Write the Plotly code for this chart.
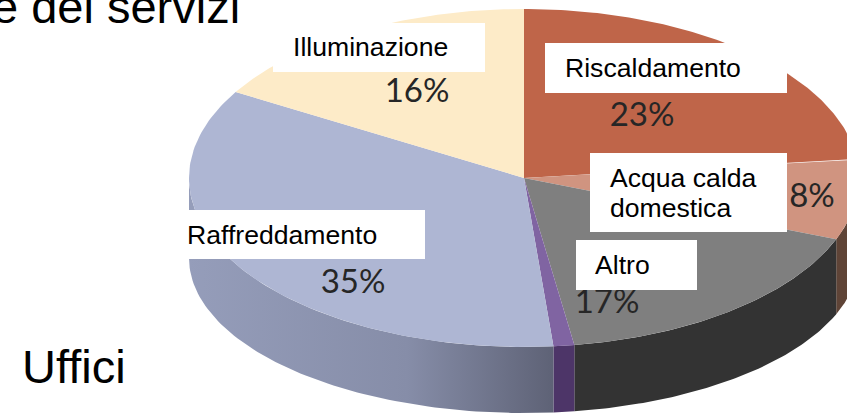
import numpy as np
import plotly.graph_objects as go

# Slices, clockwise from 12 o'clock
categories = ["Riscaldamento", "Acqua calda domestica", "Altro", "Altro (viola)", "Raffreddamento", "Illuminazione"]
values = [23.2, 7.7, 16.7, 1.0, 34.9, 16.5]
pct_labels = ["23%", "8%", "17%", "", "35%", "16%"]
top_colors = ["#BF6549", "#D09480", "#7F7F7F", "#8064A2", "#AEB6D3", "#FDEBC8"]
wall_colors = ["#8A4A36", "#5F4437", "#333333", "#4D3568", None, "#C0B090"]
wall_gradient = [[0, "#959DBA"], [0.6, "#868DA8"], [1, "#5E6276"]]

# Geometry of the tilted pie on the page
CX, CY, RX, RY = 524, 178, 335, 169
BOT_DY, BOT_RY = 80, 155

def top_pt(t):
    return CX + RX * np.sin(t), CY - RY * np.cos(t)

def bot_pt(t):
    return CX + RX * np.sin(t), CY + BOT_DY - BOT_RY * np.cos(t)

fig = go.Figure()
edges = np.radians(np.concatenate([[0], np.cumsum(values)]) * 3.6)

# side walls (front half only)
for i in range(len(values)):
    a, b = max(edges[i], np.pi / 2), min(edges[i + 1], 3 * np.pi / 2)
    if b <= a:
        continue
    t = np.linspace(a, b, 80)
    xt, yt = top_pt(t)
    xb, yb = bot_pt(t[::-1])
    kw = dict(fillcolor=wall_colors[i]) if wall_colors[i] else dict(
        fillgradient=dict(type="horizontal", colorscale=wall_gradient))
    fig.add_trace(go.Scatter(x=np.r_[xt, xb], y=np.r_[yt, yb], mode="lines", fill="toself",
                             line=dict(width=0), hoverinfo="skip", showlegend=False, **kw))

# top face
for i in range(len(values)):
    t = np.linspace(edges[i], edges[i + 1], 120)
    xt, yt = top_pt(t)
    fig.add_trace(go.Scatter(x=np.r_[CX, xt, CX], y=np.r_[CY, yt, CY], mode="lines", fill="toself",
                             fillcolor=top_colors[i], line=dict(width=0, color=top_colors[i]),
                             name=categories[i], hoverinfo="name", showlegend=False))

# percentage labels (beneath the white boxes)
pct_pos = [(642, 118), (812, 199), (607, 305), None, (353, 285), (417, 94)]
for lab, pos in zip(pct_labels, pct_pos):
    if pos:
        fig.add_trace(go.Scatter(x=[pos[0]], y=[pos[1]], mode="text", text=[lab], hoverinfo="skip",
                                 textposition="middle center", showlegend=False, cliponaxis=False,
                                 textfont=dict(family="Lato", size=33, color="#262626")))

# white label boxes
boxes = [(273, 23, 485, 72), (545, 43, 787, 93), (590, 153, 787, 232), (576, 240, 697, 290), (186, 210, 425, 259)]
shapes = [dict(type="rect", xref="x", yref="y", x0=a, y0=b, x1=c, y1=d, layer="above",
               fillcolor="white", line=dict(width=0)) for a, b, c, d in boxes]

def note(text, x, y, size=26.6, anchor="left", yanchor="middle", align="left"):
    return dict(text=text, x=x, y=y, xref="x", yref="y", showarrow=False, xanchor=anchor, yanchor=yanchor,
                align=align, font=dict(family="Liberation Sans", size=size, color="black"), borderpad=0)

annotations = [
    note("Illuminazione", 292, 47),
    note("Riscaldamento", 564, 68),
    note("Acqua calda", 609, 178),
    note("domestica", 609, 208),
    note("Altro", 594, 265),
    note("Raffreddamento", 186, 235),
    note("Uffici", 21, 366, size=47),
    note("e dei servizi", 241, 6, size=47, anchor="right"),
]

fig.update_layout(width=847, height=414, margin=dict(l=0, r=0, t=0, b=0), paper_bgcolor="white",
                  plot_bgcolor="white", shapes=shapes, annotations=annotations, showlegend=False,
                  xaxis=dict(range=[0, 847], visible=False, fixedrange=True),
                  yaxis=dict(range=[414, 0], visible=False, fixedrange=True))
fig.write_html("out.html", config=dict(displayModeBar=False, responsive=False),
               post_script="document.body.style.margin='0';document.documentElement.style.overflow='hidden';")
